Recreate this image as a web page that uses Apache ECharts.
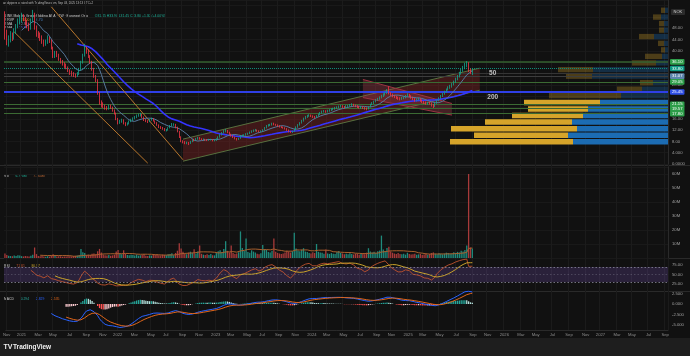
<!DOCTYPE html>
<html><head><meta charset="utf-8">
<script src="https://cdn.jsdelivr.net/npm/echarts@6/dist/echarts.min.js"></script>
<style>html,body{margin:0;padding:0;background:#111111;}#c{width:690px;height:356px;}</style>
</head><body><div id="c"></div>
<script>
// ---------- DATA ----------
const firstWeek = '2020-11-02';
const weekCount = 358;
const monthNames = ['Jan','Feb','Mar','Apr','May','Jun','Jul','Aug','Sep','Oct','Nov','Dec'];

// weekly candles [open, close, low, high]
const ohlc = [
[50.0,46.0,44.0,54.0],[46.0,43.5,42.0,47.5],[43.5,44.0,41.5,45.5],[44.0,45.5,43.0,47.0],[45.5,44.5,43.5,46.5],
[44.5,47.0,44.0,48.0],[47.0,48.5,46.0,49.5],[48.5,50.5,48.0,51.5],[50.5,51.0,49.5,52.5],[51.0,52.5,50.0,53.5],
[52.5,51.5,50.5,53.0],[51.5,50.0,49.0,52.0],[50.0,49.0,48.0,51.0],[49.0,48.0,47.0,50.0],[48.0,50.5,47.5,51.5],
[50.5,53.0,50.0,54.5],[53.0,48.5,47.5,53.5],[48.5,46.0,45.0,49.0],[46.0,45.5,44.5,47.0],[45.5,44.8,43.5,46.5],
[44.8,43.2,42.5,45.5],[43.2,42.5,41.5,44.0],[42.5,43.0,41.8,44.0],[43.0,44.5,42.5,45.5],[44.5,43.5,42.8,45.0],
[43.5,41.0,40.5,44.0],[41.0,38.0,37.5,41.5],[38.0,39.0,37.5,40.0],[39.0,38.5,37.8,40.0],[38.5,37.0,36.5,39.0],
[37.0,36.0,35.5,37.5],[36.0,35.5,34.8,36.8],[35.5,35.0,34.0,36.0],[35.0,34.0,33.5,35.5],[34.0,33.0,32.5,34.5],
[33.0,32.5,31.5,33.5],[32.5,32.0,31.0,33.0],[32.0,31.5,30.8,32.5],[31.5,31.0,30.5,32.0],[31.0,32.0,30.8,32.5],
[32.0,33.5,31.5,34.0],[33.5,36.0,33.0,36.5],[36.0,38.5,35.5,39.0],[38.5,41.0,38.0,42.5],[41.0,40.0,39.0,41.5],
[40.0,38.0,37.5,40.5],[38.0,36.0,35.5,38.5],[36.0,33.5,33.0,36.5],[33.5,31.0,30.5,34.0],[31.0,29.5,29.0,31.5],
[29.5,25.0,24.5,30.0],[25.0,21.5,21.0,25.5],[21.5,21.0,20.0,22.5],[21.0,20.5,19.8,21.8],[20.5,20.0,19.2,21.0],
[20.0,19.5,19.0,20.5],[19.5,20.5,19.2,21.0],[20.5,20.0,19.5,21.0],[20.0,19.0,18.5,20.3],[19.0,18.0,17.5,19.3],
[18.0,16.0,15.5,18.2],[16.0,14.5,14.0,16.3],[14.5,15.0,14.2,15.6],[15.0,15.5,14.6,16.0],[15.5,14.5,14.0,15.8],
[14.5,14.0,13.4,14.8],[14.0,14.2,13.6,14.7],[14.2,15.0,14.0,15.4],[15.0,15.5,14.8,16.0],[15.5,16.0,15.2,16.5],
[16.0,16.5,15.8,17.0],[16.5,17.0,16.2,17.5],[17.0,17.3,16.7,17.8],[17.3,17.5,16.8,18.1],[17.5,16.5,16.2,17.7],
[16.5,15.5,15.2,16.8],[15.5,15.2,14.8,15.9],[15.2,15.0,14.5,15.5],[15.0,15.6,14.8,16.0],[15.6,16.0,15.3,16.4],
[16.0,15.2,15.0,16.2],[15.2,14.5,14.2,15.4],[14.5,13.8,13.5,14.8],[13.8,13.0,12.7,14.0],[13.0,12.8,12.4,13.4],
[12.8,12.5,12.1,13.1],[12.5,12.0,11.6,12.7],[12.0,12.0,11.5,12.4],[12.0,12.8,11.8,13.0],[12.8,13.5,12.6,13.8],
[13.5,14.0,13.2,14.5],[14.0,14.0,13.5,14.4],[14.0,13.0,12.6,14.2],[13.0,11.5,11.2,13.2],[11.5,9.5,9.2,11.7],
[9.5,8.0,7.7,9.8],[8.0,7.8,7.3,8.4],[7.8,7.5,7.0,8.1],[7.5,7.6,7.0,7.9],[7.6,7.3,6.7,7.8],
[7.3,7.9,7.1,8.2],[7.9,8.5,7.7,8.8],[8.5,8.4,8.0,8.9],[8.4,8.8,8.2,9.2],[8.8,9.2,8.6,9.6],
[9.2,8.9,8.6,9.5],[8.9,8.7,8.4,9.1],[8.7,8.7,8.3,9.0],[8.7,8.5,8.2,8.9],[8.5,8.4,8.1,8.8],
[8.4,8.6,8.2,8.9],[8.6,8.6,8.3,8.9],[8.6,8.3,8.0,8.8],[8.3,8.4,8.0,8.7],[8.4,8.9,8.2,9.1],
[8.9,9.5,8.8,9.8],[9.5,10.3,9.3,10.6],[10.3,11.0,10.1,11.3],[11.0,11.6,10.8,12.0],[11.6,11.8,11.2,12.4],
[11.8,11.2,10.9,12.0],[11.2,10.5,10.3,11.4],[10.5,10.0,9.7,10.7],[10.0,9.5,9.2,10.2],[9.5,9.0,8.7,9.7],
[9.0,8.7,8.3,9.2],[8.7,9.0,8.5,9.3],[9.0,9.8,8.9,10.2],[9.8,10.0,9.6,10.4],[10.0,10.2,9.8,10.5],
[10.2,10.5,10.0,10.9],[10.5,10.8,10.3,11.1],[10.8,11.2,10.6,11.5],[11.2,11.5,11.0,11.9],[11.5,11.8,11.3,12.2],
[11.8,12.0,11.5,12.4],[12.0,11.7,11.4,12.2],[11.7,11.5,11.2,11.9],[11.5,11.6,11.2,11.9],[11.6,12.0,11.4,12.3],
[12.0,12.8,11.9,13.1],[12.8,13.5,12.6,13.8],[13.5,13.7,13.2,14.1],[13.7,13.8,13.4,14.2],[13.8,14.2,13.6,14.6],
[14.2,14.0,13.7,14.6],[14.0,13.8,13.5,14.2],[13.8,13.5,13.2,14.0],[13.5,13.2,12.9,13.7],[13.2,13.0,12.7,13.4],
[13.0,12.8,12.5,13.2],[12.8,12.5,12.2,13.0],[12.5,12.0,11.7,12.7],[12.0,11.5,11.2,12.2],[11.5,11.3,11.0,11.7],
[11.3,11.5,11.0,11.8],[11.5,12.2,11.4,12.5],[12.2,13.0,12.0,13.3],[13.0,13.8,12.8,14.1],[13.8,14.5,13.6,14.8],
[14.5,15.3,14.3,15.6],[15.3,16.0,15.0,16.4],[16.0,16.6,15.8,17.0],[16.6,17.0,16.3,17.4],[17.0,17.2,16.7,17.6],
[17.2,17.0,16.6,17.5],[17.0,16.7,16.3,17.2],[16.7,16.5,16.1,17.0],[16.5,17.0,16.3,17.3],[17.0,17.5,16.8,17.8],
[17.5,18.0,17.3,18.4],[18.0,18.5,17.8,18.9],[18.5,18.7,18.2,19.1],[18.7,18.5,18.1,19.0],[18.5,18.8,18.2,19.2],
[18.8,19.0,18.5,19.4],[19.0,19.3,18.7,19.7],[19.3,19.5,19.0,19.9],[19.5,19.8,19.2,20.2],[19.8,20.0,19.5,20.4],
[20.0,20.3,19.7,20.7],[20.3,20.5,20.0,20.9],[20.5,20.2,19.8,20.8],[20.2,20.0,19.6,20.5],[20.0,20.4,19.8,20.8],
[20.4,20.5,20.0,20.9],[20.5,20.8,20.2,21.2],[20.8,21.0,20.5,21.5],[21.0,20.7,20.3,21.3],[20.7,20.5,20.1,21.0],
[20.5,20.2,19.8,20.8],[20.2,20.0,19.6,20.5],[20.0,20.1,19.6,20.5],[20.1,20.0,19.5,20.4],[20.0,19.7,19.2,20.2],
[19.7,19.5,19.0,20.0],[19.5,20.2,19.3,20.5],[20.2,21.0,20.0,21.3],[21.0,21.5,20.8,21.9],[21.5,22.0,21.2,22.4],
[22.0,22.6,21.8,23.0],[22.6,23.0,22.3,23.4],[23.0,23.5,22.7,23.9],[23.5,24.0,23.2,24.5],[24.0,24.6,23.7,25.0],
[24.6,25.0,24.2,25.5],[25.0,26.0,24.8,26.5],[26.0,25.0,24.6,27.5],[25.0,24.5,24.0,25.4],[24.5,24.0,23.6,24.9],
[24.0,23.8,23.3,24.4],[23.8,23.5,23.0,24.1],[23.5,23.2,22.7,23.8],[23.2,23.0,22.5,23.6],[23.0,23.3,22.7,23.7],
[23.3,23.5,22.9,23.9],[23.5,24.0,23.2,24.4],[24.0,24.5,23.7,25.0],[24.5,24.0,23.6,24.8],[24.0,23.5,23.1,24.3],
[23.5,23.0,22.6,23.8],[23.0,22.5,22.0,23.3],[22.5,22.8,22.1,23.2],[22.8,23.0,22.4,23.4],[23.0,22.5,22.0,23.3],
[22.5,22.0,21.6,22.8],[22.0,21.8,21.3,22.3],[21.8,21.5,21.0,22.1],[21.5,21.6,21.0,22.0],[21.6,21.5,21.0,22.0],
[21.5,21.0,20.3,21.8],[21.0,20.5,19.8,21.2],[20.5,21.5,20.2,21.8],[21.5,22.5,21.3,22.9],[22.5,23.2,22.2,23.6],
[23.2,24.0,23.0,24.4],[24.0,24.8,23.7,25.2],[24.8,25.5,24.5,25.9],[25.5,26.3,25.2,26.7],[26.3,27.0,26.0,27.5],
[27.0,27.5,26.6,28.0],[27.5,28.0,27.0,28.6],[28.0,29.0,27.8,29.5],[29.0,30.0,28.7,30.5],[30.0,31.0,29.6,31.5],
[31.0,32.0,30.6,32.6],[32.0,33.0,31.6,33.6],[33.0,34.0,32.6,34.7],[34.0,35.0,33.5,35.8],[35.0,35.5,34.2,36.4],
[35.5,33.0,32.5,36.0],[33.0,32.5,31.8,33.8],[31.45,33.80,31.45,33.90]
];

// weekly volume, millions of shares
const volume = [
3.2,2.1,1.6,1.4,1.2,1.8,1.5,2.0,1.7,1.3,
1.1,1.4,1.2,1.0,1.6,2.4,7.5,2.8,1.5,1.2,
1.4,1.1,0.9,1.3,1.0,1.6,2.6,1.4,1.1,1.3,
1.2,0.9,1.0,1.1,1.3,1.2,1.0,1.4,1.5,1.8,
2.2,6.5,4.1,3.5,2.0,2.4,2.1,3.0,3.3,2.6,
4.8,6.5,3.9,2.5,2.0,1.8,2.2,1.6,1.9,2.4,
4.6,5.8,3.2,2.6,5.5,3.0,2.2,1.9,2.4,2.1,
1.8,2.5,1.7,2.0,2.2,2.8,1.6,1.5,1.9,1.7,
2.1,2.4,2.6,2.0,1.8,2.5,2.2,1.9,2.7,2.9,
3.4,2.0,3.6,5.2,10.5,6.8,4.4,3.1,2.6,3.9,
4.5,3.8,6.2,3.3,4.7,9.0,3.0,2.4,2.1,2.6,
2.2,2.8,2.0,1.9,3.5,4.8,5.6,4.2,6.4,12.0,
5.1,4.0,9.0,3.6,2.9,3.3,4.1,19.0,7.2,5.0,
14.0,4.3,3.8,5.5,4.6,3.9,3.1,2.7,3.4,9.2,
6.3,5.8,4.2,3.9,5.1,14.0,4.4,3.6,3.2,2.9,
3.3,4.0,5.2,4.6,3.9,4.8,18.0,6.8,5.3,4.9,
5.9,7.0,4.6,4.2,3.6,3.2,4.1,3.5,10.0,4.4,
4.0,3.8,3.0,6.0,3.3,2.9,3.5,3.1,2.8,4.2,
5.0,3.6,3.2,2.7,3.0,2.6,3.4,2.9,2.5,3.1,
2.8,2.4,3.0,3.3,2.7,3.8,7.0,4.6,3.9,4.4,
3.6,4.9,5.3,16.0,6.1,5.0,7.2,8.0,4.7,3.8,
3.2,2.9,3.5,2.8,2.6,3.1,2.4,3.7,2.9,2.5,
2.7,3.0,2.3,2.6,2.9,2.2,2.5,3.3,2.4,2.8,
3.6,4.0,3.1,2.7,3.4,3.0,2.6,3.2,3.8,3.5,
2.9,3.3,4.1,3.6,4.4,3.9,5.2,4.6,5.8,9.0,
60.0,7.5,6.77
];

// visible-range volume profile (price rows, up / down volume)
const profileRowLow = [6.7,9.0,11.3,13.7,16.0,18.3,20.6,23.0,25.3,27.6,29.9,32.2,34.6,36.9,39.2,41.5,43.9,46.2,48.5,50.8,53.2];
const profileBin = 2.32;
const profileUp   = [47.5,50,45.5,48,42.5,40,34,23.5,13,7.5,38,37.5,6,3,1.5,2,7,2,2,3.5,1.5];
const profileDown = [61.5,47,63,43.5,35.5,30,38,36,12.5,6.5,13,17.5,12,8.5,2,3,7.5,2.5,2.5,4,2];
const valueArea = [6.7, 23.0];

// horizontal levels on the price axis
const levelPrices = [36.10, 33.80, 32.05, 31.07, 29.05, 25.45, 21.15, 19.57, 17.80];
const levelLabels = ['36.10','33.80','','31.07','29.05','25.45','21.15','19.57','17.80'];

// drawings (week index, price)
const fallUpper = [[25, 55.6],[96, 1.5]];
const fallLower = [[5, 46.7],[77, 0.3]];
const riseUpper = [[96, 8.8],[256, 33.9]];
const riseLower = [[96, 1.0],[256, 26.1]];
const dropUpper = [[193, 29.9],[241, 21.4]];
const dropLower = [[193, 23.5],[241, 17.3]];
const maTags = ['50','200'];
const maTagPos = [[263, 32.2],[263, 23.7]];

// axis tick labels
const priceTickValues = [0,4,8,12,16,28,40,44,48];
const priceTickLabels = ['0.0000','4.000','8.00','12.00','16.00','28.00','40.00','44.00','48.00'];
const volTickValues = [10,20,30,40,50,60];
const volTickLabels = ['10M','20M','30M','40M','50M','60M'];
const rsiTickValues = [25,50,75];
const rsiTickLabels = ['25.00','50.00','75.00'];
const macdTickValues = [2.5,0,-2.5,-5];
const macdTickLabels = ['2.500','0.000','-2.500','-5.000'];

// ---------- DERIVED ----------
const categories = [];
(function(){ const d0 = new Date(firstWeek+'T00:00:00Z').getTime();
  for (let i=0;i<weekCount;i++) categories.push(new Date(d0+i*7*86400000).toISOString().slice(0,10)); })();
const xLabel = {};
categories.forEach((c,i)=>{ const d = new Date(c+'T00:00:00Z').getTime();
  for (let k=-1;k<=5;k++){ const e = new Date(d+k*86400000);
    if (e.getUTCDate()===1 && e.getUTCMonth()%2===0){ xLabel[i] = e.getUTCMonth()===0 ? String(e.getUTCFullYear()) : monthNames[e.getUTCMonth()]; } } });

const closes = ohlc.map(r=>r[1]);
function sma(arr, n){ return arr.map((v,i)=>{ if (i<n-1) return null; let s=0; for(let j=i-n+1;j<=i;j++){ if(arr[j]==null) return null; s+=arr[j]; } return s/n; }); }
function ema(arr, n){ const out = arr.map(()=>null); const st = arr.findIndex(v=>v!=null); if (st<0||st+n>arr.length) return out;
  let s=0; for(let i=st;i<st+n;i++) s+=arr[i]; let e=s/n; out[st+n-1]=e; const k=2/(n+1);
  for(let i=st+n;i<arr.length;i++){ e = arr[i]*k + e*(1-k); out[i]=e; } return out; }
function rsiCalc(c, n){ const out = c.map(()=>null); let g=0,l=0;
  for(let i=1;i<=n;i++){ const d=c[i]-c[i-1]; if(d>0) g+=d; else l-=d; } g/=n; l/=n; out[n]=100-100/(1+g/l);
  for(let i=n+1;i<c.length;i++){ const d=c[i]-c[i-1]; g=(g*(n-1)+Math.max(d,0))/n; l=(l*(n-1)+Math.max(-d,0))/n; out[i]= l===0?100:100-100/(1+g/l); }
  return out; }
const dash = a => a.map(v=> v==null ? '-' : +v.toFixed(4));
const sma10 = sma(closes,10), sma40 = sma(closes,40);
const volMA = sma(volume,20);
const rsi = rsiCalc(closes,14), rsiMA = sma(rsi,14);
const e12 = ema(closes,12), e26 = ema(closes,26);
const macd = closes.map((v,i)=> (e12[i]!=null && e26[i]!=null) ? e12[i]-e26[i] : null);
const signal = ema(macd,9);
const hist = macd.map((v,i)=> (v!=null && signal[i]!=null) ? v-signal[i] : null);
const histData = hist.map((h,i)=>{ if (h==null) return '-'; const p = hist[i-1]==null?h:hist[i-1];
  const col = h>=0 ? (h>=p ? '#26a69a' : '#b2dfdb') : (h<p ? '#ff5252' : '#ffcdd2'); return {value:+h.toFixed(4), itemStyle:{color:col}}; });
const volData = volume.map((v,i)=>({value:v, itemStyle:{color: ohlc[i][1]>=ohlc[i][0] ? '#1f8a7c' : '#a83a3a'}}));
const last = ohlc[ohlc.length-1], prevC = ohlc[ohlc.length-2][1];
const lastOf = a => { for(let i=a.length-1;i>=0;i--) if(a[i]!=null) return a[i]; return 0; };

// ---------- STYLES ----------
const FONT = 'Liberation Sans, Arial, sans-serif';
const UP='#14a38b', DOWN='#f23645';
const levelStyles = [
  {c:'#35612f',w:1.5,t:'solid',bg:'#2e9e4a'},
  {c:'#0f8a78',w:1,t:'dotted',bg:'#0f9a84'},
  {c:'#353535',w:1,t:'solid',bg:null},
  {c:'#3d3d3d',w:1,t:'solid',bg:'#5d86ad'},
  {c:'#3b6a33',w:1,t:'solid',bg:'#2e9e4a'},
  {c:'#2f3fe6',w:2,t:'solid',bg:'#2f4fe6'},
  {c:'#3b6a33',w:1,t:'solid',bg:'#2e9e4a'},
  {c:'#3b6a33',w:1,t:'solid',bg:'#2e9e4a'},
  {c:'#3b6a33',w:1,t:'solid',bg:'#2e9e4a'}
];
const L=4, R=22;
const AX = 4.2, LEG = 3.4;
function tickFmt(vals, labels){ return v => { const i = vals.findIndex(x=>Math.abs(x-v)<1e-6); return i<0 ? '' : labels[i]; }; }
const axisLab = {color:'#a0a0a0', fontSize:AX, fontFamily:FONT, margin:4};
function hiddenX(gi){ return {type:'category', gridIndex:gi, data:categories, show:false, boundaryGap:true}; }
function rt(color){ return {fill:color, fontSize:LEG, fontFamily:FONT}; }

function channelSeries(upper, lower, fill, stroke, z){
  return {type:'custom', xAxisIndex:0, yAxisIndex:0, z, silent:true, clip:true,
    data:[[upper[0][0], upper[0][1], lower[0][1], upper[1][0], upper[1][1], lower[1][1]]],
    encode:{x:[0,3], y:[1,2,4,5]},
    renderItem(params, api){
      const p1=api.coord([api.value(0), api.value(1)]), p2=api.coord([api.value(3), api.value(4)]);
      const p3=api.coord([api.value(3), api.value(5)]), p4=api.coord([api.value(0), api.value(2)]);
      return {type:'group', children:[
        {type:'polygon', shape:{points:[p1,p2,p3,p4]}, style:{fill}},
        {type:'line', shape:{x1:p1[0],y1:p1[1],x2:p2[0],y2:p2[1]}, style:{stroke, lineWidth:1}},
        {type:'line', shape:{x1:p4[0],y1:p4[1],x2:p3[0],y2:p3[1]}, style:{stroke, lineWidth:1}}
      ]};
    }};
}
function lineDrawing(pts, color){
  return {type:'line', xAxisIndex:0, yAxisIndex:0, data:pts, symbol:'none', silent:true, z:3,
    lineStyle:{color, width:1}};
}

const profileData = profileRowLow.map((lo,i)=>[lo, lo+profileBin, profileUp[i], profileDown[i]]);

const option = {
  backgroundColor:'#111111', animation:false,
  grid:[
    {left:L, right:R, top:0, height:164},
    {left:L, right:R, top:167, height:91},
    {left:L, right:R, top:255.5, height:38},
    {left:L, right:R, top:282.8, height:53},
    {left:L, right:R, top:0, height:164},
    {left:L, right:R, top:0, height:330}
  ],
  xAxis:[
    hiddenX(0), hiddenX(1), hiddenX(2), hiddenX(3),
    {type:'value', gridIndex:4, min:0, max:332, inverse:true, show:false},
    {type:'category', gridIndex:5, data:categories, boundaryGap:true,
      axisLine:{show:true, lineStyle:{color:'#2a2a2a'}}, axisTick:{show:false},
      axisLabel:{color:'#8c8c8c', fontSize:AX, fontFamily:FONT, margin:3,
        interval:(i)=> xLabel[i]!==undefined, formatter:(v,i)=> xLabel[i]||''},
      splitLine:{show:true, interval:(i)=> xLabel[i]!==undefined, lineStyle:{color:'#1b1b1b', width:1}}}
  ],
  yAxis:[
    {type:'value', gridIndex:0, position:'right', min:0, max:58, interval:4,
      axisLine:{show:true, lineStyle:{color:'#2a2a2a'}}, axisTick:{show:false},
      axisLabel:Object.assign({formatter:tickFmt(priceTickValues, priceTickLabels)}, axisLab),
      splitLine:{show:true, lineStyle:{color:'#191919'}}},
    {type:'value', gridIndex:1, position:'right', min:0, max:65, interval:10,
      axisLine:{show:true, lineStyle:{color:'#2a2a2a'}}, axisTick:{show:false},
      axisLabel:Object.assign({formatter:tickFmt(volTickValues, volTickLabels)}, axisLab),
      splitLine:{show:true, lineStyle:{color:'#191919'}}},
    {type:'value', gridIndex:2, position:'right', min:0, max:100, interval:25,
      axisLine:{show:false}, axisTick:{show:false},
      axisLabel:Object.assign({formatter:tickFmt(rsiTickValues, rsiTickLabels)}, axisLab),
      splitLine:{show:false}},
    {type:'value', gridIndex:3, position:'right', min:-7.5, max:5, interval:2.5,
      axisLine:{show:false}, axisTick:{show:false},
      axisLabel:Object.assign({formatter:tickFmt(macdTickValues, macdTickLabels)}, axisLab),
      splitLine:{show:false}},
    {type:'value', gridIndex:4, min:0, max:58, show:false},
    {type:'value', gridIndex:5, show:false}
  ],
  series:[
    {type:'line', xAxisIndex:5, yAxisIndex:5, data:[], silent:true},
    // volume profile
    {type:'custom', xAxisIndex:4, yAxisIndex:4, z:1, silent:true, data:profileData,
      encode:{x:[2,3], y:[0,1]},
      renderItem(params, api){
        const lo=api.value(0), hi=api.value(1), up=api.value(2), dn=api.value(3);
        const a=api.coord([0,hi]), b=api.coord([up,lo]), c=api.coord([up+dn,lo]);
        const inVA = lo >= valueArea[0]-0.01 && hi <= valueArea[1]+0.01;
        const yb = inVA ? '#d6a42a' : 'rgba(214,164,42,0.30)';
        const bb = inVA ? '#1c6cb3' : 'rgba(28,108,179,0.32)';
        const top=a[1]+0.6, h=b[1]-a[1]-1.2;
        return {type:'group', children:[
          {type:'rect', shape:{x:b[0], y:top, width:a[0]-b[0], height:h}, style:{fill:bb}},
          {type:'rect', shape:{x:c[0], y:top, width:b[0]-c[0], height:h}, style:{fill:yb}}
        ]};
      }},
    channelSeries(riseUpper, riseLower, 'rgba(140,36,36,0.38)', '#56703e', 2),
    channelSeries(dropUpper, dropLower, 'rgba(170,60,75,0.35)', '#9a3442', 2),
    lineDrawing(fallUpper, '#b8762c'),
    lineDrawing(fallLower, '#b8762c'),
    {type:'line', xAxisIndex:0, yAxisIndex:0, data:dash(sma40), symbol:'none', z:4, silent:true,
      lineStyle:{color:'#3434ff', width:1.6}},
    {type:'line', xAxisIndex:0, yAxisIndex:0, data:dash(sma10), symbol:'none', z:4, silent:true,
      lineStyle:{color:'#56799e', width:1}},
    {type:'candlestick', xAxisIndex:0, yAxisIndex:0, data:ohlc, z:5, barWidth:'62%',
      itemStyle:{color:UP, color0:DOWN, borderColor:UP, borderColor0:DOWN, borderWidth:0.8},
      markLine:{symbol:'none', silent:true, z:3,
        data: levelPrices.map((p,i)=>({yAxis:p,
          lineStyle:{color:levelStyles[i].c, width:levelStyles[i].w, type:levelStyles[i].t},
          label: levelLabels[i] ? {show:true, position:'end', distance:2, formatter:levelLabels[i],
            color:'#ffffff', fontSize:AX, fontFamily:FONT, backgroundColor:levelStyles[i].bg,
            padding:[0.8,2,0.8,2], borderRadius:1} : {show:false}}))}},
    {type:'scatter', xAxisIndex:0, yAxisIndex:0, symbolSize:0, silent:true, z:6,
      data: maTagPos.map((p,i)=>({value:p, name:maTags[i]})),
      label:{show:true, position:'inside', formatter:p=>p.name, color:'#e8e8e8', fontSize:6.5, fontWeight:'bold', fontFamily:FONT}},
    // volume
    {type:'bar', xAxisIndex:1, yAxisIndex:1, data:volData, barWidth:'70%', silent:true},
    {type:'line', xAxisIndex:1, yAxisIndex:1, data:dash(volMA), symbol:'none', silent:true,
      lineStyle:{color:'#a8602e', width:1}},
    // RSI
    {type:'line', xAxisIndex:2, yAxisIndex:2, data:dash(rsi), symbol:'none', silent:true, z:4,
      lineStyle:{color:'#c0522e', width:0.9},
      markArea:{silent:true, itemStyle:{color:'rgba(126,87,194,0.24)'}, data:[[{yAxis:30},{yAxis:70}]]},
      markLine:{symbol:'none', silent:true, label:{show:false},
        data:[{yAxis:70, lineStyle:{color:'#8a8a9a', type:[1.5,2], width:0.8}},
              {yAxis:50, lineStyle:{color:'rgba(138,138,154,0.45)', type:[1.5,2], width:0.8}},
              {yAxis:30, lineStyle:{color:'#8a8a9a', type:[1.5,2], width:0.8}}]}},
    {type:'line', xAxisIndex:2, yAxisIndex:2, data:dash(rsiMA), symbol:'none', silent:true, z:4,
      lineStyle:{color:'#c9a22a', width:1}},
    // MACD
    {type:'bar', xAxisIndex:3, yAxisIndex:3, data:histData, barWidth:'70%', silent:true},
    {type:'line', xAxisIndex:3, yAxisIndex:3, data:dash(macd), symbol:'none', silent:true,
      lineStyle:{color:'#2962ff', width:1}},
    {type:'line', xAxisIndex:3, yAxisIndex:3, data:dash(signal), symbol:'none', silent:true,
      lineStyle:{color:'#e0661a', width:1}}
  ],
  graphic:[
    {type:'line', shape:{x1:0,y1:165.5,x2:690,y2:165.5}, style:{stroke:'#2a2a2a', lineWidth:1}, silent:true},
    {type:'line', shape:{x1:0,y1:258.5,x2:690,y2:258.5}, style:{stroke:'#2a2a2a', lineWidth:1}, silent:true},
    {type:'line', shape:{x1:0,y1:291.5,x2:690,y2:291.5}, style:{stroke:'#2a2a2a', lineWidth:1}, silent:true},
    {type:'rect', shape:{x:0,y:338,width:690,height:18}, style:{fill:'#1e1e1e'}, silent:true},
    {type:'text', left:3.5, top:343.5, style:{text:'TV', fill:'#f0f0f0', fontSize:7, fontWeight:'bold', fontFamily:FONT}},
    {type:'text', left:13, top:344, style:{text:'TradingView', fill:'#f0f0f0', fontSize:6.5, fontWeight:'bold', fontFamily:FONT}},
    {type:'text', left:3, top:2, style:{text:'arcolpipers created with TradingView.com, Sep 03, 2025 13:13 UTC+2', fill:'#bdbdbd', fontSize:2.9, fontFamily:FONT}},
    {type:'text', left:5, top:10, style:{rich:{a:rt('#cfcfcf'), b:rt('#1fb29a')},
      text:'{a|LINK Mobility Group Holding ASA · 1W · Euronext Oslo}  {b|O'+last[0].toFixed(2)+' H'+last[3].toFixed(2)+' L'+last[2].toFixed(2)+' C'+last[1].toFixed(2)+' +'+(last[1]-prevC).toFixed(2)+' (+'+((last[1]-prevC)/prevC*100).toFixed(2)+'%)}'}},
    {type:'text', left:5, top:14.2, style:{rich:{a:rt('#cfcfcf'), b:rt('#d6a42a'), c:rt('#4a86c8')},
      text:'{a|VRVP}  {b|'+valueArea[1].toFixed(2)+'}  {c|'+valueArea[0].toFixed(2)+'}'}},
    {type:'text', left:5, top:18, style:{rich:{a:rt('#cfcfcf'), b:rt('#6f93ba')},
      text:'{a|SMA}  {b|'+lastOf(sma10).toFixed(2)+'}'}},
    {type:'text', left:5, top:22.5, style:{rich:{a:rt('#cfcfcf'), b:rt('#5a5aff')},
      text:'{a|SMA}  {b|'+lastOf(sma40).toFixed(2)+'}'}},
    {type:'text', left:4, top:170, style:{rich:{a:rt('#cfcfcf'), b:rt('#1fb29a'), c:rt('#c06a35')},
      text:'{a|Vol}  {b|'+volume[volume.length-1].toFixed(3)+'M}  {c|'+lastOf(volMA).toFixed(3)+'M}'}},
    {type:'text', left:4, top:260, style:{rich:{a:rt('#cfcfcf'), b:rt('#c0522e'), c:rt('#c9a22a')},
      text:'{a|RSI}  {b|'+lastOf(rsi).toFixed(2)+'}  {c|'+lastOf(rsiMA).toFixed(2)+'}'}},
    {type:'text', left:4, top:293, style:{rich:{a:rt('#cfcfcf'), b:rt('#26a69a'), c:rt('#2962ff'), d:rt('#e0661a')},
      text:'{a|MACD}  {b|'+lastOf(hist).toFixed(3)+'}  {c|'+lastOf(macd).toFixed(3)+'}  {d|'+lastOf(signal).toFixed(3)+'}'}},
    {type:'group', left:671, top:9, children:[
      {type:'rect', shape:{x:0,y:0,width:14,height:6, r:1}, style:{fill:'#2b2b2b'}},
      {type:'text', x:2.5, y:1, style:{text:'NOK', fill:'#cfcfcf', fontSize:4, fontFamily:FONT}}]}
  ]
};
const chart = echarts.init(document.getElementById('c'), null, {renderer:'canvas'});
chart.setOption(option);
</script></body></html>
